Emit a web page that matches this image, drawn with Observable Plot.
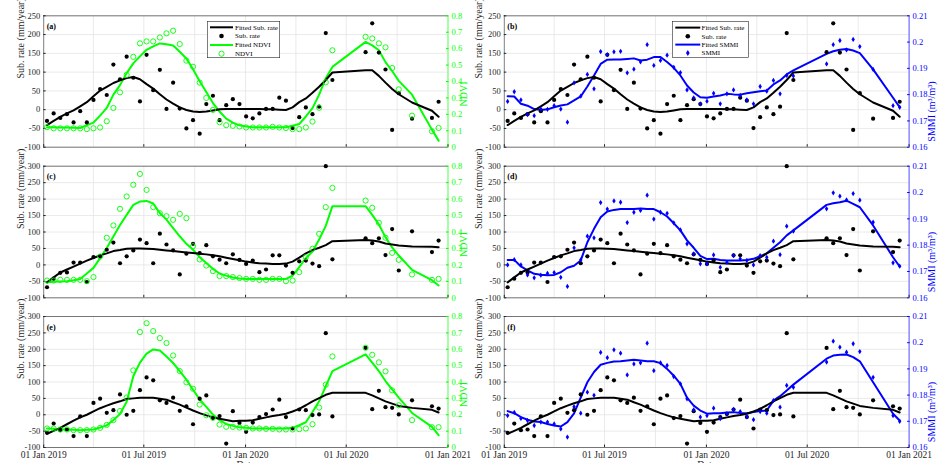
<!DOCTYPE html>
<html>
<head>
<meta charset="utf-8">
<script src="https://cdn.jsdelivr.net/npm/d3@7"></script>
<script src="https://cdn.jsdelivr.net/npm/@observablehq/plot@0.6"></script>
<style>
html,body{margin:0;padding:0;background:#fff;overflow:hidden}
#wrap{position:relative;width:939px;height:463px;overflow:hidden;background:#fff}
.cell{position:absolute}
.cell svg{overflow:visible}
</style>
</head>
<body>
<div id="wrap"></div>
<script>
// ---------- observation dates (12-day acquisitions) ----------
const dates = ["2019-01-07","2019-01-19","2019-01-31","2019-02-12","2019-02-24","2019-03-08","2019-03-20","2019-04-01","2019-04-13","2019-04-25",
"2019-05-07","2019-05-19","2019-05-31","2019-06-12","2019-06-24","2019-07-06","2019-07-18","2019-07-30","2019-08-11","2019-08-23",
"2019-09-04","2019-09-16","2019-09-28","2019-10-10","2019-10-22","2019-11-03","2019-11-15","2019-11-27","2019-12-09","2019-12-21",
"2020-01-02","2020-01-14","2020-01-26","2020-02-07","2020-02-19","2020-03-02","2020-03-14","2020-03-26","2020-04-07","2020-04-19",
"2020-05-01","2020-05-13","2020-05-25","2020-06-06",
"2020-08-05","2020-08-17","2020-08-29","2020-09-10","2020-09-22","2020-10-04","2020-10-28","2020-12-03","2020-12-15"];

// ---------- panels (a)/(b) ----------
const subRateAB = [-30,-10,-22,-12,-34,-4,-34,26,55,39, 120,81,141,85,22,146,52,106,2,72, 3,-50,-28,-64,15,37,-28,12,28,15, -18,-23,-10,2,2,32,24,-49,-20,6, -12,8,204,79, 153,230,152,107,-54,44,-24,-22,21];
const fitSubAB = [-41,-30,-19,-10,-2,9,20,36,51,61, 71,78,84,87,81,68,56,41,27,16, 6,-1,-5,-6,-5,-2,1,1.5,2,2, 2,2,1.5,1,1,0,-1,6,20,30, 45,61,79,99, 105,105,90,72,55,41,19,-3,-19];
const ndviA = [0.122,0.115,0.115,0.115,0.115,0.115,0.11,0.115,0.12,0.158, 0.239,0.334,0.44,0.55,0.632,0.644,0.644,0.668,0.693,0.709, 0.628,0.527,0.49,0.393,0.3,0.227,0.152,0.134,0.13,0.126, 0.12,0.12,0.12,0.12,0.124,0.12,0.117,0.11,0.11,0.12, 0.156,0.24,0.395,0.59, 0.672,0.662,0.632,0.608,0.482,0.352,0.192,0.097,0.117];
const fitNdviA = [0.122,0.121,0.12,0.12,0.119,0.117,0.134,0.15,0.192,0.239, 0.32,0.378,0.451,0.51,0.553,0.593,0.614,0.632,0.627,0.619, 0.581,0.54,0.475,0.402,0.336,0.269,0.217,0.174,0.15,0.133, 0.126,0.122,0.122,0.122,0.122,0.122,0.122,0.131,0.141,0.187, 0.238,0.32,0.42,0.489, 0.641,0.62,0.59,0.518,0.464,0.404,0.32,0.107,0.04];
const smmiB = [0.1774,0.1811,0.178,0.1724,0.172,0.1745,0.1744,0.1758,0.1745,0.1695, 0.1845,0.1794,0.1877,0.1822,0.1964,0.1952,0.1963,0.1965,0.1883,0.1897, 0.1925,0.199,0.1911,0.193,0.195,0.1904,0.1884,0.1818,0.1788,0.1765, 0.1775,0.1805,0.1765,0.1803,0.1818,0.1797,0.178,0.1765,0.1831,0.1813, 0.1854,0.1803,0.1873,0.1871, 0.1917,0.199,0.2006,0.197,0.201,0.1983,0.1896,0.1758,0.1752];
const fitSmmiB = [0.1794,0.1793,0.1765,0.1758,0.1745,0.1742,0.1744,0.1752,0.1759,0.1763, 0.1778,0.1793,0.1831,0.1873,0.1917,0.1933,0.1934,0.1934,0.1936,0.1938, 0.193,0.1933,0.1943,0.1943,0.1924,0.1902,0.1873,0.1835,0.1808,0.179, 0.1788,0.1793,0.1797,0.1803,0.1801,0.18,0.1805,0.1809,0.1813,0.1816, 0.1839,0.1854,0.1877,0.1892, 0.1955,0.1965,0.1971,0.1974,0.1968,0.1958,0.1896,0.1788,0.1752];

// ---------- panels (c)/(d) ----------
const subRateCD = [-68,-42,-24,-23,7,7,-52,24,26,46, 68,5,26,44,77,66,5,95,62,44, -29,34,64,36,60,26,16,5,32,15, 3,13,-22,-14,29,29,-2,-24,11,13, 4,-4,300,17, 81,66,81,30,109,-17,102,39,74];
const fitSubCD = [-53,-38,-23,-14,-5,4,13,21,29,35, 42,45,49,50,50,49,48,46,44,42, 40,38,36,34,32,29,26,22,18,14, 10,7,5,4,3,3,4,10,22,35, 45,52,60,72, 76,74,71,65,62,59,56,55,54];
const ndviC = [0.105,0.105,0.109,0.109,0.109,0.109,0.101,0.126,0.251,0.365, 0.44,0.541,0.616,0.687,0.753,0.656,0.551,0.514,0.496,0.474, 0.51,0.484,0.314,0.233,0.196,0.162,0.132,0.132,0.126,0.12, 0.115,0.115,0.109,0.109,0.115,0.115,0.101,0.105,0.156,0.247, 0.298,0.389,0.551,0.668, 0.591,0.547,0.456,0.365,0.273,0.231,0.142,0.109,0.115];
const fitNdviC = [0.095,0.097,0.099,0.101,0.107,0.114,0.148,0.182,0.241,0.302, 0.372,0.443,0.504,0.565,0.585,0.589,0.573,0.515,0.475,0.424, 0.374,0.328,0.292,0.247,0.211,0.176,0.148,0.135,0.123,0.118, 0.115,0.115,0.115,0.115,0.115,0.115,0.115,0.134,0.186,0.241, 0.281,0.354,0.437,0.557, 0.557,0.504,0.446,0.369,0.306,0.257,0.17,0.107,0.075];
const smmiD = [0.1725,0.1745,0.1725,0.1687,0.1676,0.1686,0.1693,0.1696,0.1678,0.1643, 0.179,0.1744,0.1834,0.1828,0.1962,0.1937,0.1968,0.1963,0.1886,0.1925, 0.1932,0.199,0.1899,0.1925,0.1921,0.1885,0.1858,0.1805,0.1767,0.1729, 0.1729,0.1763,0.1716,0.1735,0.176,0.1748,0.1742,0.1725,0.176,0.1754, 0.1815,0.1764,0.1872,0.1853, 0.1938,0.1999,0.1986,0.1972,0.1996,0.1971,0.1887,0.1733,0.172];
const fitSmmiD = [0.1744,0.1744,0.1719,0.1704,0.1691,0.1688,0.1686,0.1687,0.1697,0.1714, 0.1722,0.1742,0.1811,0.1862,0.1906,0.1928,0.1934,0.1937,0.1937,0.1937, 0.1939,0.1937,0.1937,0.1925,0.1909,0.1883,0.1856,0.1818,0.179,0.1759, 0.1747,0.1748,0.1744,0.1742,0.1742,0.1742,0.1744,0.1748,0.1758,0.1769, 0.179,0.1811,0.1837,0.1856, 0.1953,0.1959,0.1963,0.1969,0.1957,0.1944,0.1875,0.1754,0.1719];

// ---------- panels (e)/(f) ----------
const subRateEF = [-55,-27,-47,-45,-65,-5,-65,36,49,6, 14,62,0,12,75,114,105,44,36,52, 12,26,-29,49,59,-10,-4,-88,11,-25, -52,-24,-7,2,16,46,-7,-42,16,14, -1,1,249,-5, 204,17,73,23,21,1,44,26,19];
const fitSubEF = [-58,-49,-40,-29,-18,-8,0,10,20,28, 35,41,48,50,52,52,52,49,46,38, 31,22,13,5,-2,-8,-12,-16,-20,-18, -18,-17,-12,-8,-4,-1,3,10,18,29, 41,51,61,67, 67,59,50,41,34,27,21,15,7];
const ndviE = [0.116,0.116,0.11,0.11,0.106,0.106,0.106,0.11,0.12,0.138, 0.167,0.223,0.305,0.471,0.705,0.759,0.711,0.668,0.638,0.562, 0.467,0.398,0.359,0.262,0.197,0.181,0.14,0.126,0.126,0.122, 0.12,0.116,0.116,0.114,0.114,0.11,0.11,0.11,0.112,0.116, 0.142,0.244,0.384,0.556, 0.609,0.566,0.52,0.465,0.349,0.258,0.167,0.124,0.124];
const fitNdviE = [0.116,0.114,0.112,0.11,0.108,0.106,0.108,0.11,0.122,0.135, 0.168,0.205,0.28,0.435,0.518,0.573,0.599,0.593,0.556,0.516, 0.467,0.414,0.353,0.294,0.248,0.201,0.167,0.144,0.132,0.123, 0.12,0.116,0.116,0.116,0.116,0.116,0.116,0.12,0.136,0.154, 0.217,0.282,0.374,0.467, 0.569,0.518,0.467,0.406,0.355,0.305,0.211,0.126,0.075];
const smmiF = [0.1722,0.1734,0.1711,0.1703,0.1684,0.1697,0.1697,0.169,0.1671,0.164, 0.1756,0.1731,0.1811,0.1799,0.1963,0.1943,0.1973,0.196,0.1877,0.1919, 0.1923,0.1998,0.1893,0.1923,0.1913,0.1871,0.1843,0.1786,0.1744,0.1716, 0.1722,0.175,0.171,0.1729,0.1745,0.1737,0.1718,0.1706,0.1737,0.1731, 0.1779,0.1754,0.1837,0.183, 0.1926,0.2006,0.1983,0.1964,0.1996,0.1966,0.1868,0.1722,0.17];
const fitSmmiF = [0.1739,0.1731,0.1716,0.1706,0.1699,0.1697,0.169,0.1684,0.168,0.1697, 0.173,0.179,0.1849,0.1888,0.1916,0.1923,0.1928,0.1929,0.1932,0.1935, 0.1932,0.1929,0.1929,0.1922,0.19,0.1874,0.1843,0.179,0.176,0.1741, 0.1729,0.1731,0.1731,0.1734,0.1735,0.1732,0.1731,0.1735,0.1739,0.1741, 0.1779,0.1796,0.1818,0.184, 0.1939,0.1951,0.1954,0.1955,0.1945,0.1929,0.1849,0.1729,0.1703];

// ---------- ticks & labels ----------
const leftTicksTop = [-100,-50,0,50,100,150,200,250];
const leftTicksLow = [-100,-50,0,50,100,150,200,250,300];
const ndviTicks = [0,0.1,0.2,0.3,0.4,0.5,0.6,0.7,0.8];
const smmiTicks = [0.16,0.17,0.18,0.19,0.2,0.21];
const dateTicks = ["2019-01-01","2019-07-01","2020-01-01","2020-07-01","2021-01-01"];
const gridDates = ["2019-04-01","2019-07-01","2019-10-01","2020-01-01","2020-04-01","2020-07-01","2020-10-01"];
const panelTags = ["(a)","(b)","(c)","(d)","(e)","(f)"];
const yTitle = "Sub. rate (mm/year)";
const ndviTitle = "NDVI";
const smmiTitle = "SMMI (m\u00B3/m\u00B3)";
const xTitle = "Date";
const legendNdvi = ["Fitted Sub. rate","Sub. rate","Fitted NDVI","NDVI"];
const legendSmmi = ["Fitted Sub. rate","Sub. rate","Fitted SMMI","SMMI"];

// ---------- drawing ----------
const SERIF = "'Liberation Serif','Times New Roman',serif";
const GREEN = "#00ff00", BLUE = "#0000ff", AXIS = "#262626", GRID = "#e4e4e4";
const wrap = document.getElementById("wrap");
const xDomain = [new Date(dateTicks[0]), new Date(dateTicks[dateTicks.length - 1])];
const fmtSec = v => String(Math.round(v * 100) / 100);
const dateFmt = d3.utcFormat("%d %b %Y");
const tallDiamond = {
  draw(ctx, size) {
    const r = Math.sqrt(size / Math.PI), w = r * 0.78, h = r * 1.2;
    ctx.moveTo(0, -h); ctx.lineTo(w, 0); ctx.lineTo(0, h); ctx.lineTo(-w, 0); ctx.closePath();
  }
};

function makePanel(cfg) {
  const {left, top, width, height, mL, mR, mT, mB, yTicks, sub, subFit, sec, secFit, kind, tag, showDates, yLabelDx, secLabelDx} = cfg;
  const yDom = [yTicks[0], yTicks[yTicks.length - 1]];
  const sTicks = kind === "ndvi" ? ndviTicks : smmiTicks;
  const sDom = [sTicks[0], sTicks[sTicks.length - 1]];
  const toP = s => yDom[0] + (s - sDom[0]) / (sDom[1] - sDom[0]) * (yDom[1] - yDom[0]);
  const toS = p => sDom[0] + (p - yDom[0]) / (yDom[1] - yDom[0]) * (sDom[1] - sDom[0]);
  const color = kind === "ndvi" ? GREEN : BLUE;
  const rows = dates.map((d, i) => ({date: new Date(d), sub: sub[i], fit: subFit[i], sec: toP(sec[i]), secFit: toP(secFit[i])}));
  const marks = [
    Plot.gridY(yTicks, {stroke: GRID, strokeOpacity: 1, strokeWidth: 0.8}),
    Plot.gridX(gridDates.map(d => new Date(d)), {stroke: GRID, strokeOpacity: 1, strokeWidth: 0.8}),
    Plot.ruleY([yDom[1]], {stroke: AXIS, strokeWidth: 0.6}),
    Plot.ruleY([yDom[0]], {stroke: AXIS, strokeWidth: 0.6}),
    Plot.ruleX([xDomain[0]], {stroke: AXIS, strokeWidth: 0.6}),
    Plot.ruleX([xDomain[1]], {stroke: color, strokeWidth: 0.7}),
    Plot.axisY(yTicks, {anchor: "left", tickSize: -2.5, tickPadding: 6, color: AXIS, label: null, tickFormat: d => String(d), fontSize: 8.5}),
    Plot.axisY(sTicks.map(toP), {anchor: "right", tickSize: -2.5, tickPadding: 6, color: color, label: null, tickFormat: p => fmtSec(toS(p)), fontSize: 8.5}),
    Plot.axisX(dateTicks.map(d => new Date(d)), {anchor: "bottom", tickSize: -2.5, tickPadding: 6, color: AXIS, label: null, tickFormat: showDates ? dateFmt : () => "", fontSize: 9.5}),
    Plot.line(rows, {x: "date", y: "secFit", stroke: color, strokeWidth: 2}),
    Plot.line(rows, {x: "date", y: "fit", stroke: "#000", strokeWidth: 2}),
    Plot.dot(rows, {x: "date", y: "sub", r: 2.1, fill: "#000"}),
    kind === "ndvi"
      ? Plot.dot(rows, {x: "date", y: "sec", r: 2.6, stroke: GREEN, strokeWidth: 0.9, fill: "none"})
      : Plot.dot(rows, {x: "date", y: "sec", r: 2.2, symbol: tallDiamond, fill: BLUE, stroke: "none"}),
    Plot.text([tag], {frameAnchor: "top-left", dx: 3, dy: 7.5, textAnchor: "start", fontWeight: "bold", fontSize: 8, fill: "#000"}),
    Plot.text([yTitle], {frameAnchor: "left", rotate: -90, dx: yLabelDx, dy: -3, fontSize: 10, fill: AXIS}),
    Plot.text([kind === "ndvi" ? ndviTitle : smmiTitle], {frameAnchor: "right", rotate: -90, dx: secLabelDx, fontSize: 10, fill: color})
  ];
  if (showDates) marks.push(Plot.text([xTitle], {frameAnchor: "bottom", dy: 20, fontSize: 10, fill: AXIS}));
  const svg = Plot.plot({
    width, height, marginLeft: mL, marginRight: mR, marginTop: mT, marginBottom: mB,
    style: {fontFamily: SERIF, fontSize: "8.5px", overflow: "visible", background: "transparent"},
    x: {type: "utc", domain: xDomain, label: null},
    y: {domain: yDom, label: null},
    marks
  });
  const div = document.createElement("div");
  div.className = "cell";
  div.style.left = left + "px";
  div.style.top = top + "px";
  div.appendChild(svg);
  wrap.appendChild(div);
}

const L = {left: 0, width: 470, mL: 43.2, mR: 22.5, yLabelDx: -23, secLabelDx: 16};
const R = {left: 470, width: 469, mL: 33.8, mR: 30.4, yLabelDx: -25.5, secLabelDx: 23};
const R1 = {top: 0, height: 150, mT: 15.3, mB: 3.3, yTicks: leftTicksTop};
const R2 = {top: 150, height: 150, mT: 15.7, mB: 2.7, yTicks: leftTicksLow};
const R3 = {top: 300, height: 180, mT: 16, mB: 33, yTicks: leftTicksLow};

makePanel({...L, ...R1, sub: subRateAB, subFit: fitSubAB, sec: ndviA, secFit: fitNdviA, kind: "ndvi", tag: panelTags[0], showDates: false});
makePanel({...R, ...R1, sub: subRateAB, subFit: fitSubAB, sec: smmiB, secFit: fitSmmiB, kind: "smmi", tag: panelTags[1], showDates: false});
makePanel({...L, ...R2, sub: subRateCD, subFit: fitSubCD, sec: ndviC, secFit: fitNdviC, kind: "ndvi", tag: panelTags[2], showDates: false});
makePanel({...R, ...R2, sub: subRateCD, subFit: fitSubCD, sec: smmiD, secFit: fitSmmiD, kind: "smmi", tag: panelTags[3], showDates: false});
makePanel({...L, ...R3, sub: subRateEF, subFit: fitSubEF, sec: ndviE, secFit: fitNdviE, kind: "ndvi", tag: panelTags[4], showDates: true});
makePanel({...R, ...R3, sub: subRateEF, subFit: fitSubEF, sec: smmiF, secFit: fitSmmiF, kind: "smmi", tag: panelTags[5], showDates: true});

// ---------- legends (row 1) ----------
function addLegend(left, top, w, h, labels, kind, x0, x1, tx, rowY) {
  const color = kind === "ndvi" ? GREEN : BLUE;
  const mid = (x0 + x1) / 2;
  const svg = d3.select(wrap).append("svg")
    .attr("width", w).attr("height", h)
    .style("position", "absolute").style("left", left + "px").style("top", top + "px").style("overflow", "visible");
  svg.append("rect").attr("x", 0.3).attr("y", 0.3).attr("width", w - 0.6).attr("height", h - 0.6)
    .attr("fill", "#fff").attr("stroke", AXIS).attr("stroke-width", 0.6);
  svg.append("line").attr("x1", x0).attr("x2", x1).attr("y1", rowY[0]).attr("y2", rowY[0]).attr("stroke", "#000").attr("stroke-width", 2);
  svg.append("circle").attr("cx", mid).attr("cy", rowY[1]).attr("r", 2.3).attr("fill", "#000");
  svg.append("line").attr("x1", x0).attr("x2", x1).attr("y1", rowY[2]).attr("y2", rowY[2]).attr("stroke", color).attr("stroke-width", 2);
  if (kind === "ndvi") {
    svg.append("circle").attr("cx", mid).attr("cy", rowY[3]).attr("r", 2.6).attr("fill", "none").attr("stroke", GREEN).attr("stroke-width", 0.9);
  } else {
    const p = d3.path(); tallDiamond.draw(p, 2.4 * 2.4 * Math.PI);
    svg.append("path").attr("d", p.toString()).attr("transform", `translate(${mid},${rowY[3]})`).attr("fill", BLUE);
  }
  labels.forEach((t, i) => svg.append("text").attr("x", tx).attr("y", rowY[i]).attr("dy", "0.35em")
    .attr("font-size", 7).attr("font-family", SERIF).attr("fill", "#000").text(t));
}
addLegend(207, 21, 73, 37, legendNdvi, "ndvi", 3, 26, 28, [6.3, 15, 24, 32.7]);
addLegend(671.7, 20.7, 76.6, 36.6, legendSmmi, "smmi", 3.3, 28.3, 29.5, [6.6, 15.3, 23.6, 32]);
</script>
</body>
</html>
